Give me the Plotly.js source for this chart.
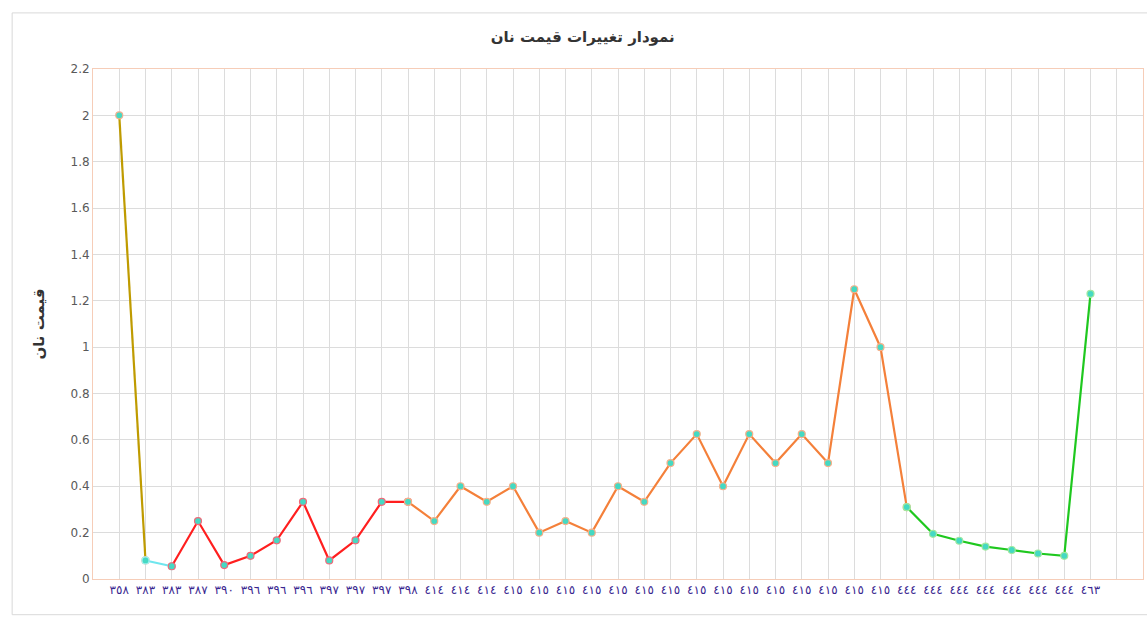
<!DOCTYPE html>
<html>
<head>
<meta charset="utf-8">
<script src="https://cdn.plot.ly/plotly-3.0.1.min.js"></script>
<style>html,body{margin:0;padding:0;background:#fff;}#chart{width:1147px;height:619px;}</style>
</head>
<body>
<div id="chart"></div>
<script>
// Category tick labels (Arabic-Indic digits, as in the reference)
const labels = [
  '٣٥٨','٣٨٣','٣٨٣','٣٨٧','٣٩٠','٣٩٦','٣٩٦','٣٩٦','٣٩٧','٣٩٧','٣٩٧','٣٩٨',
  '٤١٤','٤١٤','٤١٤',
  '٤١٥','٤١٥','٤١٥','٤١٥','٤١٥','٤١٥','٤١٥','٤١٥','٤١٥','٤١٥','٤١٥','٤١٥','٤١٥','٤١٥','٤١٥',
  '٤٤٤','٤٤٤','٤٤٤','٤٤٤','٤٤٤','٤٤٤','٤٤٤',
  '٤٦٣'
];
// Bread price values
const prices = [
  2.0, 0.08, 0.055, 0.25, 0.06, 0.1, 0.167, 0.333, 0.08, 0.167, 0.333, 0.333,
  0.25, 0.4, 0.333,
  0.4, 0.2, 0.25, 0.2, 0.4, 0.333, 0.5, 0.625, 0.4, 0.625, 0.5, 0.625, 0.5, 1.25, 1.0,
  0.31, 0.195, 0.165, 0.14, 0.125, 0.11, 0.1,
  1.23
];
// Coloured line segments: [start index, end index]
const segStarts = [0, 1, 2, 11, 30];
const segEnds   = [1, 2, 11, 30, 37];
const segColors = ['#bf9b00', '#6fe6ee', '#ff1f1f', '#f4803a', '#1fc81f'];
const markerEdge = ['#f0b090', '#9ff0f0', '#f06a7a', '#f6b08a', '#9fe89f'];

const idx = labels.map((_, i) => i);
const traces = segStarts.map((s, k) => ({
  type: 'scatter',
  mode: 'lines+markers',
  x: idx.slice(s, segEnds[k] + 1),
  y: prices.slice(s, segEnds[k] + 1),
  line: {color: segColors[k], width: 2.2},
  marker: {size: 7, color: '#45d9c3', line: {color: markerEdge[k], width: 1.2}},
  hoverinfo: 'x+y',
  showlegend: false
}));

const tickvals = idx.concat([labels.length]);
const ticktext = labels.concat(['']);

const layout = {
  width: 1147, height: 619,
  margin: {l: 93, r: 4, t: 69, b: 40},
  paper_bgcolor: '#ffffff',
  plot_bgcolor: '#ffffff',
  title: {
    text: '<b>نمودار تغییرات قیمت نان</b>',
    font: {family: 'DejaVu Sans, sans-serif', size: 15, color: '#333333'},
    x: 0.508, xanchor: 'center', y: 0.94, yanchor: 'middle'
  },
  xaxis: {
    range: [-1, labels.length + 1],
    tickmode: 'array', tickvals: tickvals, ticktext: ticktext,
    tickangle: 0,
    showgrid: true, gridcolor: '#dcdcdc', gridwidth: 1,
    zeroline: false,
    showline: true, linecolor: '#f6cdb8', linewidth: 1, mirror: true,
    ticks: '',
    tickfont: {family: 'DejaVu Sans, sans-serif', size: 12, color: '#3a2790'},
    fixedrange: true
  },
  yaxis: {
    range: [0, 2.2], dtick: 0.2, tick0: 0,
    showgrid: true, gridcolor: '#dcdcdc', gridwidth: 1,
    zeroline: false,
    showline: true, linecolor: '#f6cdb8', linewidth: 1, mirror: true,
    ticks: '', ticklen: 0,
    tickfont: {family: 'DejaVu Sans, sans-serif', size: 12, color: '#595959'},
    title: {text: '<b>قیمت نان</b>', font: {family: 'DejaVu Sans, sans-serif', size: 15, color: '#333333'}, standoff: 22},
    fixedrange: true
  },
  shapes: [{
    type: 'rect', xref: 'paper', yref: 'paper',
    x0: -0.077, x1: 1.01, y0: -0.07, y1: 1.11,
    line: {color: '#d9d9d9', width: 1}, fillcolor: 'rgba(0,0,0,0)', layer: 'below'
  }]
};

Plotly.newPlot('chart', traces, layout, {displayModeBar: false, staticPlot: false});
</script>
</body>
</html>
